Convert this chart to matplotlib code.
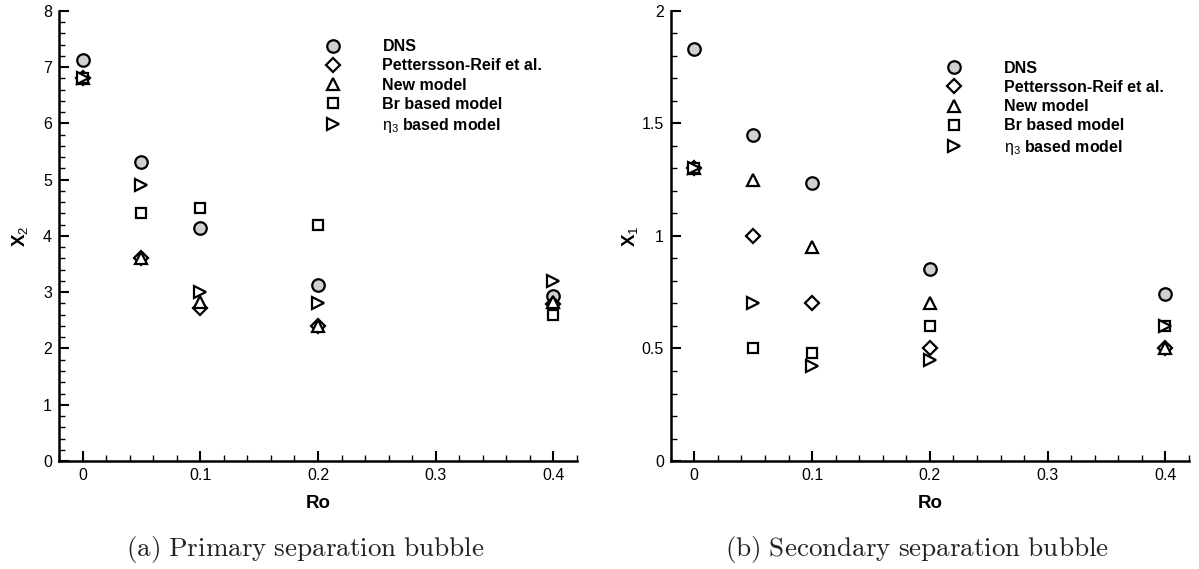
import matplotlib.pyplot as plt
from matplotlib.ticker import MultipleLocator, FuncFormatter

plt.rcParams['font.family'] = ['Liberation Sans', 'DejaVu Sans']
plt.rcParams['mathtext.fontset'] = 'custom'
plt.rcParams['mathtext.rm'] = 'Liberation Sans'
plt.rcParams['mathtext.it'] = 'Liberation Sans:italic'
plt.rcParams['mathtext.bf'] = 'Liberation Sans:bold'

# Rotation numbers
ro = [0, 0.05, 0.1, 0.2, 0.4]

# (a) primary separation bubble, X2
x2_dns = [7.13, 5.32, 4.14, 3.12, 2.93]
x2_pr = [6.8, 3.6, 2.72, 2.4, 2.79]
x2_new = [6.8, 3.6, 2.83, 2.4, 2.83]
x2_br = [6.8, 4.4, 4.5, 4.2, 2.6]
x2_eta = [6.8, 4.9, 3.0, 2.8, 3.2]

# (b) secondary separation bubble, X1
x1_dns = [1.83, 1.45, 1.235, 0.855, 0.74]
x1_pr = [1.3, 1.0, 0.7, 0.5, 0.5]
x1_new = [1.3, 1.25, 0.95, 0.7, 0.5]
x1_br = [1.3, 0.5, 0.48, 0.6, 0.6]
x1_eta = [1.3, 0.7, 0.42, 0.45, 0.6]

labels = ['DNS', 'Pettersson-Reif et al.', 'New model', 'Br based model',
          r'$\mathrm{\eta}_{3}$ based model']

fmt = FuncFormatter(lambda v, p: '%g' % round(v, 3))


def draw(ax, series, ylabel, ymax, ymaj, ymin_step, leg_anchor, ylab_x):
    dns, pr, new, br, eta = series
    ax.plot(ro, dns, ls='none', marker='o', ms=9, mfc='#d0d0d0', mec='black', mew=1.6, label=labels[0])
    ax.plot(ro, pr, ls='none', marker='D', ms=7, mfc='white', mec='black', mew=1.6, label=labels[1])
    ax.plot(ro, new, ls='none', marker='^', ms=8, mfc='white', mec='black', mew=1.6, label=labels[2])
    ax.plot(ro, br, ls='none', marker='s', ms=6.5, mfc='white', mec='black', mew=1.6, label=labels[3])
    ax.plot(ro, eta, ls='none', marker='>', ms=8, mfc='white', mec='black', mew=1.6, label=labels[4])

    ax.set_xlim(-0.02, 0.42)
    ax.set_ylim(0, ymax)
    ax.xaxis.set_major_locator(MultipleLocator(0.1))
    ax.xaxis.set_minor_locator(MultipleLocator(0.02))
    ax.yaxis.set_major_locator(MultipleLocator(ymaj))
    ax.yaxis.set_minor_locator(MultipleLocator(ymin_step))
    ax.xaxis.set_major_formatter(fmt)
    ax.yaxis.set_major_formatter(fmt)

    for s in ['top', 'right']:
        ax.spines[s].set_visible(False)
    for s in ['left', 'bottom']:
        ax.spines[s].set_linewidth(1.8)
    ax.tick_params(which='both', direction='in', top=False, right=False)
    ax.tick_params(which='major', length=7, width=1.5, labelsize=11.5, pad=5)
    ax.tick_params(which='minor', length=4.3, width=1.0)

    ax.set_xlabel('Ro', fontsize=13.5, fontweight='bold')
    ax.xaxis.set_label_coords(0.5, -0.075)
    ax.set_ylabel(ylabel, fontsize=13.5)
    ax.yaxis.set_label_coords(ylab_x, 0.5)

    ax.legend(loc='upper left', bbox_to_anchor=leg_anchor, frameon=False,
              borderpad=0, borderaxespad=0, handlelength=1.0, handletextpad=2.6,
              labelspacing=0.26, numpoints=1, prop={'weight': 'bold', 'size': 11.5})


fig = plt.figure(figsize=(11.99, 5.69), dpi=100)
ax1 = fig.add_axes([0.0492, 0.1898, 0.432, 0.7909])
ax2 = fig.add_axes([0.5594, 0.1898, 0.4323, 0.7909])

draw(ax1, [x2_dns, x2_pr, x2_new, x2_br, x2_eta], r'$\mathbf{X}_{2}$',
     8, 1, 0.2, (0.5135, 0.937), -0.056)
draw(ax2, [x1_dns, x1_pr, x1_new, x1_br, x1_eta], r'$\mathbf{X}_{1}$',
     2, 0.5, 0.1, (0.5318, 0.889), -0.059)

fig.text(0.2544, 0.022, r'$\mathrm{(a)\ Primary\ separation\ bubble}$',
         ha='center', va='baseline', fontsize=19.5, math_fontfamily='cm', color='#222222')
fig.text(0.765, 0.022, r'$\mathrm{(b)\ Secondary\ separation\ bubble}$',
         ha='center', va='baseline', fontsize=19.5, math_fontfamily='cm', color='#222222')

fig.savefig('out.png', dpi=100)
